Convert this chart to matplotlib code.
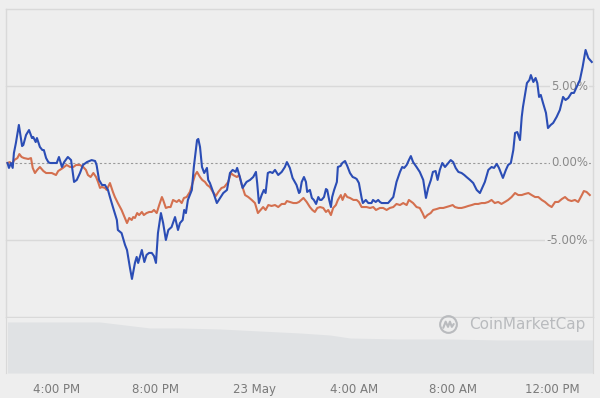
import matplotlib
matplotlib.use("Agg")
import matplotlib.pyplot as plt
import matplotlib.patches as mpatches
import matplotlib.transforms as mtransforms

# ---------------- data (hours since 22 May 00:00, % change) ----------------
blue_t = [14.0, 14.06, 14.14, 14.21, 14.26, 14.34, 14.46, 14.59, 14.64, 14.75, 14.87, 14.99, 15.04, 15.14,
          15.19, 15.31, 15.41, 15.47, 15.56, 15.65, 15.72, 15.85, 15.99, 16.08, 16.20, 16.29, 16.44, 16.57,
          16.69, 16.80, 16.93, 17.05, 17.21, 17.40, 17.54, 17.60, 17.70, 17.82, 17.94, 18.06, 18.14, 18.26,
          18.42, 18.46, 18.61, 18.75, 18.83, 18.95, 19.03, 19.15, 19.22, 19.28, 19.35, 19.43, 19.53, 19.62,
          19.72, 19.83, 19.92, 20.00, 20.08, 20.20, 20.29, 20.40, 20.50, 20.63, 20.77, 20.89, 20.97, 21.08,
          21.14, 21.21, 21.29, 21.45, 21.53, 21.66, 21.71, 21.78, 21.86, 21.95, 22.06, 22.11, 22.18, 22.31,
          22.46, 22.59, 22.72, 22.87, 22.99, 23.10, 23.22, 23.28, 23.39, 23.50, 23.66, 23.80, 23.93, 24.04,
          24.09, 24.16, 24.27, 24.36, 24.43, 24.52, 24.61, 24.71, 24.81, 24.94, 25.08, 25.21, 25.29, 25.41,
          25.52, 25.68, 25.78, 25.82, 25.89, 25.98, 26.06, 26.11, 26.22, 26.30, 26.38, 26.47, 26.56, 26.63,
          26.69, 26.79, 26.87, 26.92, 27.00, 27.07, 27.12, 27.20, 27.31, 27.35, 27.46, 27.53, 27.64, 27.73,
          27.84, 27.95, 28.04, 28.11, 28.20, 28.31, 28.36, 28.48, 28.58, 28.71, 28.77, 28.88, 28.98, 29.05,
          29.12, 29.25, 29.38, 29.49, 29.59, 29.72, 29.86, 29.95, 30.03, 30.13, 30.22, 30.30, 30.39, 30.53,
          30.66, 30.80, 30.91, 31.00, 31.11, 31.19, 31.30, 31.38, 31.47, 31.57, 31.68, 31.81, 31.91, 32.01,
          32.11, 32.22, 32.35, 32.46, 32.55, 32.69, 32.82, 32.96, 33.09, 33.20, 33.29, 33.43, 33.56, 33.66,
          33.77, 33.86, 33.94, 34.02, 34.14, 34.23, 34.34, 34.44, 34.51, 34.60, 34.71, 34.78, 34.83, 34.99,
          35.09, 35.15, 35.25, 35.34, 35.41, 35.48, 35.55, 35.64, 35.76, 35.84, 35.95, 36.05, 36.19, 36.32,
          36.45, 36.55, 36.66, 36.79, 36.89, 37.00, 37.13, 37.24, 37.36, 37.47, 37.61]
blue_v = [0.00, -0.32, 0.00, -0.32, 0.65, 1.30, 2.47, 1.10, 1.17, 1.82, 2.14, 1.62, 1.69, 1.36,
          1.62, 1.04, 0.84, 0.84, 0.32, 0.06, 0.00, 0.00, 0.00, 0.39, -0.26, 0.06, 0.39, 0.19,
          -1.23, -1.10, -0.65, -0.13, 0.06, 0.19, 0.13, -0.13, -1.10, -1.43, -1.43, -1.75, -2.21, -2.86,
          -3.70, -4.35, -4.55, -5.32, -5.65, -6.82, -7.53, -6.49, -6.10, -6.49, -6.10, -5.65, -6.43, -5.97,
          -5.84, -5.84, -6.04, -6.49, -4.55, -3.25, -3.90, -5.00, -4.35, -4.16, -3.51, -4.35, -3.90, -3.70,
          -3.05, -3.25, -2.40, -1.75, -0.26, 1.49, 1.56, 1.04, -0.26, -0.65, -0.32, -1.10, -1.30, -1.88,
          -2.60, -2.27, -1.95, -1.75, -0.65, -0.45, -0.58, -0.32, -0.91, -1.62, -1.23, -1.10, -0.91, -0.58,
          -1.30, -2.60, -2.08, -1.75, -1.95, -0.65, -0.58, -0.65, -0.45, -0.78, -0.58, -0.26, 0.06, -0.32,
          -0.97, -1.43, -1.95, -1.88, -1.23, -0.91, -1.23, -1.88, -1.75, -2.27, -2.40, -2.66, -2.21, -2.40,
          -2.40, -2.21, -1.69, -1.75, -2.40, -2.86, -2.21, -1.75, -1.23, -0.26, -0.19, 0.00, 0.13, -0.19,
          -0.65, -0.91, -0.97, -1.04, -1.30, -2.27, -2.60, -2.40, -2.60, -2.60, -2.40, -2.53, -2.40, -2.53,
          -2.60, -2.60, -2.60, -2.40, -2.21, -1.23, -0.58, -0.26, -0.32, -0.13, 0.19, 0.45, 0.06, -0.26,
          -0.58, -1.10, -2.27, -1.62, -1.10, -0.58, -0.52, -1.10, -0.45, 0.00, -0.26, 0.00, 0.19, 0.06,
          -0.32, -0.58, -0.65, -0.78, -0.91, -1.10, -1.30, -1.75, -1.95, -1.56, -1.23, -0.45, -0.26, -0.32,
          -0.06, -0.32, -0.65, -0.97, -0.45, -0.13, 0.00, 0.84, 1.95, 2.01, 1.49, 2.99, 3.64, 5.19,
          5.39, 5.71, 5.26, 5.52, 5.19, 4.29, 4.42, 3.90, 3.25, 2.27, 2.47, 2.60, 2.99, 3.44,
          4.29, 4.09, 4.22, 4.55, 4.55, 4.94, 5.39, 6.23, 7.34, 6.82, 6.56]

orange_t = [14.0, 14.10, 14.17, 14.27, 14.40, 14.48, 14.57, 14.67, 14.84, 14.95, 15.02, 15.11, 15.20, 15.31,
            15.45, 15.56, 15.79, 15.96, 16.05, 16.24, 16.39, 16.53, 16.66, 16.77, 16.93, 17.06, 17.17, 17.25,
            17.36, 17.47, 17.58, 17.66, 17.74, 17.81, 17.94, 18.01, 18.14, 18.26, 18.34, 18.46, 18.61, 18.71,
            18.83, 18.92, 19.02, 19.08, 19.15, 19.24, 19.32, 19.43, 19.51, 19.62, 19.73, 19.83, 19.92, 20.03,
            20.13, 20.24, 20.29, 20.40, 20.50, 20.59, 20.69, 20.84, 20.93, 21.04, 21.13, 21.24, 21.37, 21.48,
            21.58, 21.66, 21.78, 21.87, 21.98, 22.07, 22.18, 22.30, 22.42, 22.52, 22.65, 22.76, 22.92, 23.03,
            23.12, 23.27, 23.36, 23.47, 23.60, 23.73, 23.87, 24.00, 24.12, 24.23, 24.33, 24.43, 24.54, 24.67,
            24.81, 24.94, 25.08, 25.21, 25.29, 25.41, 25.55, 25.68, 25.78, 25.96, 26.09, 26.22, 26.32, 26.42,
            26.52, 26.63, 26.76, 26.87, 26.96, 27.07, 27.16, 27.27, 27.35, 27.47, 27.54, 27.64, 27.73, 27.84,
            27.98, 28.11, 28.20, 28.31, 28.51, 28.65, 28.78, 28.89, 29.05, 29.18, 29.32, 29.45, 29.59, 29.72,
            29.86, 29.99, 30.13, 30.22, 30.39, 30.53, 30.66, 30.77, 30.86, 30.97, 31.10, 31.20, 31.34, 31.47,
            31.61, 31.74, 31.88, 31.99, 32.08, 32.22, 32.35, 32.49, 32.62, 32.76, 32.89, 33.02, 33.16, 33.29,
            33.43, 33.56, 33.69, 33.83, 33.96, 34.10, 34.23, 34.37, 34.51, 34.64, 34.78, 34.91, 35.05, 35.18,
            35.32, 35.45, 35.59, 35.72, 35.86, 35.99, 36.13, 36.26, 36.40, 36.53, 36.66, 36.79, 36.93, 37.06,
            37.21, 37.29, 37.40, 37.53]
orange_v = [0.00, 0.06, -0.13, 0.19, 0.32, 0.58, 0.39, 0.32, 0.26, 0.32, -0.32, -0.65, -0.45, -0.26,
            -0.52, -0.65, -0.65, -0.78, -0.52, -0.32, -0.13, -0.26, -0.26, -0.13, -0.13, -0.26, -0.45, -0.78,
            -0.91, -0.65, -0.91, -1.23, -1.62, -1.56, -1.62, -1.75, -1.30, -1.88, -2.21, -2.60, -3.05, -3.44,
            -3.90, -3.57, -3.70, -3.51, -3.57, -3.25, -3.38, -3.18, -3.38, -3.25, -3.18, -3.18, -3.05, -3.25,
            -2.73, -2.21, -2.40, -2.92, -2.86, -2.86, -2.40, -2.53, -2.40, -2.60, -2.27, -2.21, -1.88, -1.30,
            -0.78, -0.58, -0.91, -1.10, -1.23, -1.43, -1.56, -1.88, -2.14, -1.88, -1.62, -1.56, -1.23, -0.65,
            -0.78, -0.91, -0.78, -1.43, -2.08, -2.21, -2.40, -2.60, -3.25, -3.05, -2.86, -3.05, -2.73, -2.79,
            -2.73, -2.86, -2.66, -2.66, -2.47, -2.53, -2.60, -2.60, -2.53, -2.27, -2.53, -2.86, -3.05, -3.18,
            -2.92, -2.86, -2.92, -3.18, -3.05, -3.38, -2.92, -2.73, -2.40, -2.08, -2.40, -2.01, -2.21, -2.27,
            -2.40, -2.40, -2.53, -2.86, -2.86, -2.92, -2.86, -3.05, -2.92, -2.92, -3.05, -2.92, -2.86, -2.66,
            -2.73, -2.60, -2.73, -2.40, -2.60, -2.86, -2.92, -3.25, -3.57, -3.38, -3.25, -3.05, -2.99, -2.92,
            -2.92, -2.86, -2.79, -2.73, -2.86, -2.92, -2.92, -2.86, -2.79, -2.73, -2.66, -2.66, -2.60, -2.60,
            -2.53, -2.40, -2.60, -2.53, -2.66, -2.53, -2.40, -2.21, -1.95, -2.08, -2.08, -2.01, -1.95, -2.08,
            -2.21, -2.21, -2.40, -2.53, -2.73, -2.86, -2.53, -2.53, -2.34, -2.21, -2.40, -2.47, -2.40, -2.53,
            -2.08, -1.82, -1.88, -2.08]

vol_t = [14.0, 17.74, 18.75, 19.76, 20.97, 22.59, 24.2, 25.82, 27.03, 27.84, 29.86, 31.88, 33.9, 37.66]
vol_v = [51, 51, 48, 45, 45, 44, 42, 40, 38, 35, 34, 34, 33, 33]

tick_hours = [16, 20, 24, 28, 32, 36]
tick_labels = ["4:00 PM", "8:00 PM", "23 May", "4:00 AM", "8:00 AM", "12:00 PM"]
y_ticks = [5, 0, -5]
y_labels = ["5.00%", "0.00%", "-5.00%"]
grid_levels = [10, 5, -5, -10]

# ---------------- styling ----------------
BG = "#eeeeee"
GRID = "#d9d9d9"
BLUE = "#2b4db5"
ORANGE = "#d4704f"
VOLC = "#e0e2e4"
TXT = "#8a8a8a"

fig = plt.figure(figsize=(6.0, 3.98), dpi=100, facecolor=BG)
W, H = 600.0, 398.0

ax = fig.add_axes([6 / W, (H - 317) / H, 587 / W, 308 / H])
ax.set_facecolor(BG)
ax.set_xlim(13.94, 37.66)
ax.set_ylim(-10, 10)
for s in ax.spines.values():
    s.set_visible(False)
ax.set_xticks([])
ax.set_yticks([])

for g in grid_levels:
    ax.axhline(g, color=GRID, lw=1.0, zorder=1, clip_on=False)
ax.axhline(0, color="#9a9a9a", lw=0.8, ls=(0, (2, 2)), zorder=1)
ax.axvline(13.94, color=GRID, lw=1.0, clip_on=False)
ax.axvline(37.66, color=GRID, lw=1.0, clip_on=False)

ax.plot(orange_t, orange_v, color=ORANGE, lw=1.5, zorder=3, solid_joinstyle="round")
ax.plot(blue_t, blue_v, color=BLUE, lw=1.5, zorder=4, solid_joinstyle="round")

trans = mtransforms.blended_transform_factory(ax.transAxes, ax.transData)
for yv, lab in zip(y_ticks, y_labels):
    ax.text(0.9915, yv, lab, transform=trans, ha="right", va="center", fontsize=8.5,
            color=TXT, zorder=2,
            bbox=dict(facecolor=BG, edgecolor="none", pad=1.0))

# volume pane
vax = fig.add_axes([6 / W, (H - 373) / H, 587 / W, 55 / H])
vax.set_facecolor(BG)
vax.set_xlim(13.94, 37.66)
vax.set_ylim(0, 55)
for s in ["top", "bottom"]:
    vax.spines[s].set_visible(False)
for s in ["left", "right"]:
    vax.spines[s].set_color(GRID)
vax.fill_between(vol_t, 0, vol_v, color=VOLC, lw=0)
vax.set_yticks([])
vax.set_xticks(tick_hours)
vax.set_xticklabels(tick_labels, fontsize=8.5, color="#7a7a7a")
vax.tick_params(axis="x", length=0, pad=7)

# watermark
fig.text(469 / W, (H - 325) / H, "CoinMarketCap", fontsize=11, color="#b9bbbe",
         ha="left", va="center", family="DejaVu Sans")
lax = fig.add_axes([439 / W, (H - 334) / H, 19 / W, 19 / H])
lax.set_xlim(-1, 1)
lax.set_ylim(-1, 1)
lax.axis("off")
lax.add_patch(mpatches.Circle((0, 0), 0.88, fill=False, ec="#b9bbbe", lw=1.5))
lax.plot([-0.55, -0.3, -0.05, 0.15, 0.35, 0.55], [-0.35, 0.3, -0.25, 0.3, -0.25, 0.05],
         color="#b9bbbe", lw=1.5, solid_capstyle="round")

fig.savefig("out.png", dpi=100, facecolor=BG)
